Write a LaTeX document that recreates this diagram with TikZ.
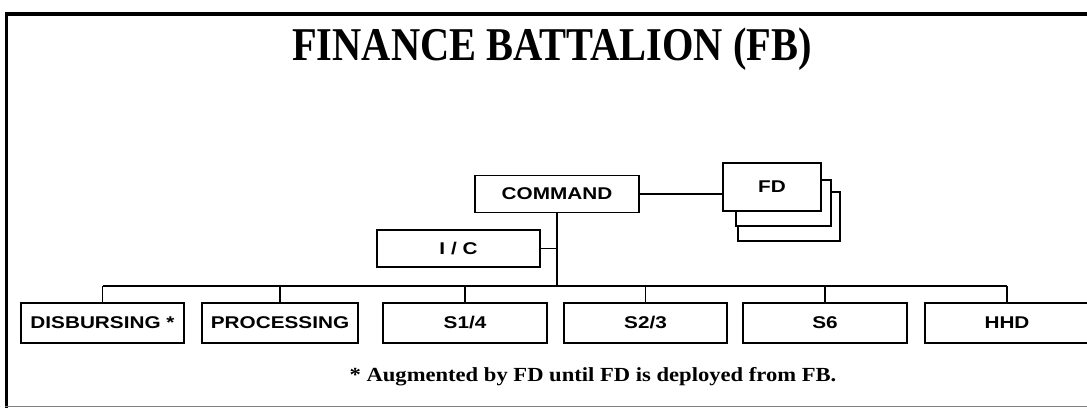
\documentclass[tikz,border=0pt]{standalone}
\usepackage{fontspec}
\setmainfont{Liberation Serif}
\setsansfont{Liberation Sans}
\newcommand{\boxlbl}[1]{\scalebox{1.22}[1]{\sffamily\bfseries\fontsize{17}{17}\selectfont #1}}
\begin{document}
\begin{tikzpicture}[x=1pt,y=-1pt,
  unit/.style={draw, line width=1.6pt, fill=white, inner sep=0pt, minimum height=#1},
  unit/.default=40pt,
  conn/.style={line width=1.4pt}]
\useasboundingbox (0,0) rectangle (1087,408);
% frame
\draw[line width=4pt] (5,14) -- (1087,14);
\draw[line width=3pt] (6.5,12) -- (6.5,408);
\draw[gray, line width=1.5pt] (5,406.5) -- (1087,406.5);
% title
\node[anchor=base, inner sep=0pt] (title) at (552,60) {\scalebox{0.86}[1]{\bfseries\fontsize{47}{47}\selectfont FINANCE BATTALION (FB)}};
% FD stack
\node[unit=49pt, minimum width=102pt] (fd3) at (789,216.5) {};
\node[unit=46pt, minimum width=95pt] (fd2) at (783.5,203) {};
\node[unit=48pt, minimum width=98pt] (fd) at (772,187) {\boxlbl{FD}};
% command
\node[unit=37pt, minimum width=164pt] (cmd) at (557,194) {\boxlbl{COMMAND}};
\node[unit=37pt, minimum width=163pt] (ic) at (458.5,248.5) {\boxlbl{I / C}};
\coordinate (bus) at (557,286);
% bottom row
\node[unit, minimum width=163pt] (disb) at (102.5,323) {\boxlbl{DISBURSING *}};
\node[unit, minimum width=156pt] (proc) at (280,323) {\boxlbl{PROCESSING}};
\node[unit, minimum width=164pt] (s14) at (465,323) {\boxlbl{S1/4}};
\node[unit, minimum width=163pt] (s23) at (645.5,323) {\boxlbl{S2/3}};
\node[unit, minimum width=164pt] (s6) at (825,323) {\boxlbl{S6}};
\node[unit, minimum width=164pt] (hhd) at (1007,323) {\boxlbl{HHD}};
% connectors
\draw[conn] (cmd.east) -- (cmd.east -| fd.west);
\draw[conn] (cmd.south) -- (bus);
\draw[conn] (ic.east) -- (ic.east -| bus);
\draw[conn] (disb.north |- bus) -- (hhd.north |- bus);
\foreach \n in {disb,proc,s14,s23,s6,hhd}
  \draw[conn] (\n.north |- bus) -- (\n.north);
% footnote
\node[anchor=base, inner sep=0pt] (note) at (593,381) {\scalebox{1.13}[1]{\bfseries\fontsize{20}{20}\selectfont * Augmented by FD until FD is deployed from FB.}};
\end{tikzpicture}
\end{document}
